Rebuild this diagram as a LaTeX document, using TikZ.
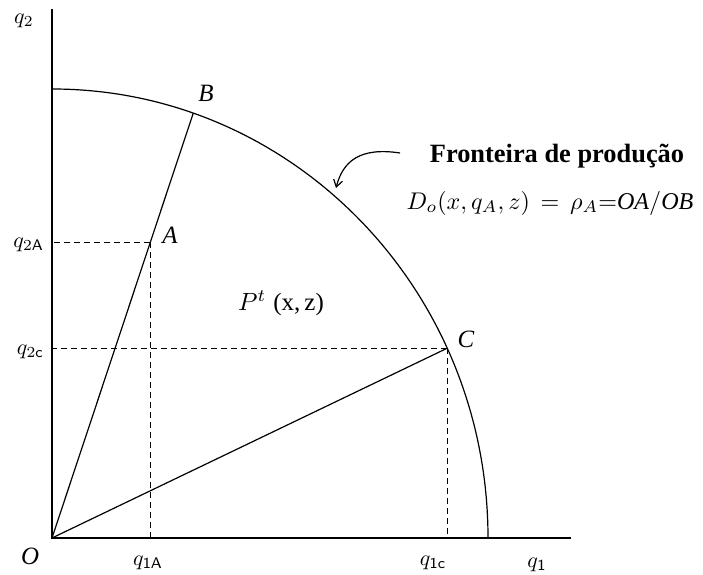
\documentclass[tikz,border=0pt]{standalone}
\usepackage{graphicx}
\usepackage{fontspec}
\setmainfont{Liberation Serif}
\usetikzlibrary{arrows.meta,calc}
\newcommand{\qlab}[1]{\scalebox{2.2}{\fontsize{10}{12}\selectfont$#1$}}
\tikzset{
  axisline/.style={line width=1.7bp},
  rayline/.style={line width=1.2bp},
  guide/.style={line width=1.25bp, dash pattern=on 6bp off 4bp},
  ptlabel/.style={font=\fontsize{25}{29}\selectfont\itshape, inner sep=0pt},
  qlabel/.style={inner sep=0pt},
}
\begin{document}
\begin{tikzpicture}[x=1bp,y=1bp]
\useasboundingbox (0,0) rectangle (703,575);
% axes
\coordinate (O) at (52,37);
\coordinate (ytop) at (52,566);
\coordinate (xend) at (571,37);
\draw[axisline] (ytop) -- (O) -- (xend);
% frontier (elliptical arc)
\coordinate (F0) at (52,486);
\draw[rayline] (F0) arc[start angle=90, end angle=0, x radius=436, y radius=449];
% points
\coordinate (B) at ($(O)+(71.1:436 and 449)$);
\coordinate (C) at ($(O)+(25:436 and 449)$);
\coordinate (A) at ($(O)!0.6965!(B)$);
% rays
\draw[rayline] (O) -- (B);
\draw[rayline] (O) -- (C);
% guides
\draw[guide] (A) -- (A -| O);
\draw[guide] (A) -- (A |- O);
\draw[guide] (C) -- (C -| O);
\draw[guide] (C) -- (C |- O);
% point labels
\node[ptlabel] (lA) at (170,340) {A};
\node[ptlabel] (lB) at (206,482) {B};
\node[ptlabel] (lC) at (466,236) {C};
\node[ptlabel] (lO) at (30,19) {O};
% axis labels
\node[qlabel] (q2) at (24,554) {\qlab{q_2}};
\node[qlabel, anchor=east] (q2A) at (44,330) {\qlab{q_{2\mathsf{A}}}};
\node[qlabel, anchor=east] (q2C) at (44,223) {\qlab{q_{2\mathsf{c}}}};
\node[qlabel] (q1A) at (148,12) {\qlab{q_{\mathsf{1A}}}};
\node[qlabel] (q1C) at (433,12) {\qlab{q_{\mathsf{1c}}}};
\node[qlabel] (q1) at (537,10) {\qlab{q_{\mathsf{1}}}};
% region label
\node[inner sep=0pt] (P) at (281,272) {\scalebox{2.5}{\fontsize{10}{12}\selectfont$P^{t}$\;(x,\,z)}};
% frontier title and formula
\node[font=\fontsize{26.5}{30}\selectfont\bfseries, inner sep=0pt] (title) at (557,419) {Fronteira de produção};
\node[inner sep=0pt] (formula) at (550,372) {\scalebox{2.42}{\fontsize{10}{12}\selectfont$D_o(x,q_A,z)\,=\,\rho_A{=}\mathit{OA}/\mathit{OB}$}};
% pointer arrow
\coordinate (arrS) at (400,422);
\coordinate (arrE) at (336,387);
\draw[line width=1.2bp, -{Straight Barb[length=7bp,width=9bp]}] (arrS) .. controls (360,428) and (343,414) .. (arrE);
\end{tikzpicture}
\end{document}
